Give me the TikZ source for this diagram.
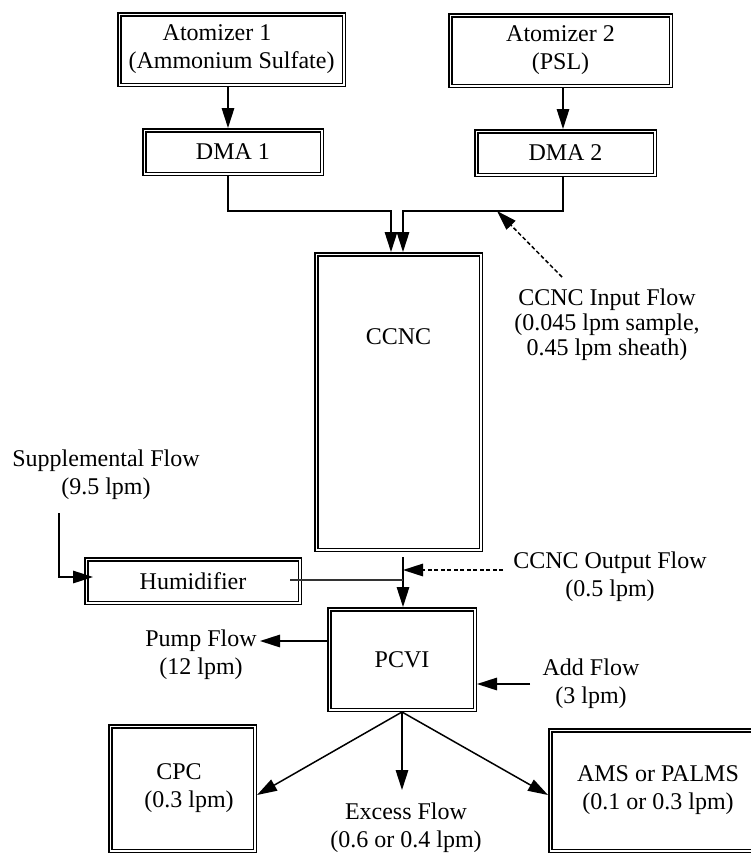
\documentclass[tikz,border=0pt]{standalone}
\usepackage{fontspec}
\setmainfont{Liberation Serif}
\usetikzlibrary{arrows.meta,calc}
\begin{document}
\begin{tikzpicture}[x=1pt,y=-1pt,
  font=\fontsize{24}{28}\selectfont,
  box/.style={draw, line width=1.5pt, double, double distance=1.5pt, outer sep=2.25pt, inner sep=2pt, align=center},
  lbl/.style={align=center, inner sep=0pt},
  arr/.style={line width=1.5pt, -{Triangle[length=20pt,width=12.5pt]}},
  dotarr/.style={arr, dash pattern=on 4pt off 2.5pt},
  ln/.style={line width=1.3pt, black!80}]
\useasboundingbox (0,0) rectangle (751,855);

% boxes
\node[box, minimum width=224.5pt, minimum height=70.5pt] (atom1) at (231.5,49.5) {\hspace*{-29pt}Atomizer 1\\(Ammonium Sulfate)};
\node[box, minimum width=220.5pt, minimum height=70.5pt] (atom2) at (560.5,50.5) {Atomizer 2\\(PSL)};
\node[box, minimum width=177.5pt, minimum height=43.5pt] (dma1) at (233,152) {DMA 1};
\node[box, minimum width=178.5pt, minimum height=43.5pt] (dma2) at (565.5,153) {DMA 2};
\node[box, minimum width=164.5pt, minimum height=295.5pt,
      label={[yshift=65pt, inner sep=0pt]center:CCNC}] (ccnc) at (398.5,402) {};
\node[box, minimum width=213.5pt, minimum height=43.5pt] (hum) at (193,581) {Humidifier};
\node[box, minimum width=145.5pt, minimum height=100.5pt] (pcvi) at (402,659.5) {PCVI};
\node[box, minimum width=144.5pt, minimum height=124.5pt] (cpc) at (182.5,788.5) {\hspace*{-7pt}CPC\\\hspace*{13pt}(0.3 lpm)};
\node[box, minimum width=215.5pt, minimum height=120.5pt] (ams) at (658,790.5) {AMS or PALMS\\(0.1 or 0.3 lpm)};

% labels
\node[lbl, font=\fontsize{24}{25}\selectfont] (inlbl) at (607,325) {CCNC Input Flow\\(0.045 lpm sample,\\0.45 lpm sheath)};
\node[lbl] (outlbl) at (610,576.5) {CCNC Output Flow\\(0.5 lpm)};
\node[lbl] (supplbl) at (106,474.5) {Supplemental Flow\\(9.5 lpm)};
\node[lbl] (pumplbl) at (201,654.5) {Pump Flow\\(12 lpm)};
\node[lbl] (addlbl) at (591,684) {Add Flow\\(3 lpm)};
\node[lbl] (exlbl) at (406,827.5) {Excess Flow\\(0.6 or 0.4 lpm)};

% top connectors
\draw[arr] ([xshift=-3.5pt]atom1.south) -- ([xshift=-3.5pt]atom1.south |- dma1.north);
\draw[arr] ([xshift=2.5pt]atom2.south) -- ([xshift=2.5pt]atom2.south |- dma2.north);
\draw[arr] ([xshift=-5pt]dma1.south) -- ++(0,35) -| ([xshift=-7.5pt]ccnc.north);
\draw[arr] ([xshift=-2.5pt]dma2.south) -- ++(0,34) -| ([xshift=4.5pt]ccnc.north);

\coordinate (inS) at (562,277);
\coordinate (inT) at (497,211);
\draw[dotarr] (inS) -- (inT);

% middle
\coordinate (cp) at ([xshift=4.5pt,yshift=-5pt]ccnc.south);
\draw[arr] (cp) -- (cp |- pcvi.north);
\draw[ln] ([xshift=-12pt,yshift=1pt]hum.east) coordinate (h1) -- (h1 -| cp);
\coordinate (outS) at (503,570);
\draw[dotarr] (outS) -- (outS -| cp);

\coordinate (sS) at (59,513);
\draw[arr] (sS) |- ([xshift=9pt,yshift=4pt]hum.west);

\coordinate (pT) at (260,641);
\draw[arr] (pcvi.west |- pT) -- (pT);
\coordinate (aS) at (530,684);
\draw[arr] (aS) -- (aS -| pcvi.east);

% bottom
\coordinate (xT) at (402,790);
\draw[arr] (pcvi.south) -- ([yshift=-6.5pt]cpc.east);
\draw[arr] (pcvi.south) -- (xT);
\draw[arr] (pcvi.south) -- ([yshift=-4.5pt]ams.west);
\end{tikzpicture}
\end{document}
